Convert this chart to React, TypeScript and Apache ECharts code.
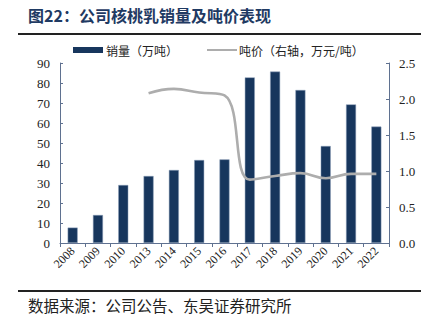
import React, { useEffect, useRef } from "react";
import * as echarts from "echarts";

const categories = ["2008", "2009", "2010", "2013", "2014", "2015", "2016", "2017", "2018", "2019", "2020", "2021", "2022"];
const salesVolume = [7.7, 14, 29, 33.5, 36.5, 41.5, 41.8, 82.8, 85.7, 76.5, 48.5, 69.3, 58.2];
const pricePerTon = [null, null, null, 2.08, 2.14, 2.09, 2.05, 0.88, 0.93, 0.97, 0.9, 0.96, 0.96];
const leftTicks = { min: 0, max: 90, interval: 10 };
const rightTicks = { min: 0, max: 2.5, interval: 0.5 };
const seriesNames = ["销量（万吨）", "吨价（右轴，万元/吨）"];

const CJK = '"Noto Sans CJK SC", sans-serif';
const SERIF = '"Liberation Serif", "Times New Roman", serif';
const BAR_COLOR = "#17365d";
const LINE_COLOR = "#adadad";

export default function App() {
  const ref = useRef<HTMLDivElement>(null);
  useEffect(() => {
    if (!ref.current) return;
    const chart = echarts.init(ref.current, null, { renderer: "svg" });
    const axisColor = "#5f7190";
    chart.setOption({
      animation: false,
      backgroundColor: "#ffffff",
      grid: { left: 60, right: 41, top: 63, bottom: 83 },
      xAxis: {
        type: "category",
        data: categories,
        axisLine: { lineStyle: { color: axisColor, width: 1 } },
        axisTick: { show: true, lineStyle: { color: axisColor }, length: 4 },
        axisLabel: { rotate: 45, fontFamily: SERIF, fontSize: 12, color: "#222", margin: 6, interval: 0 },
      },
      yAxis: [
        {
          type: "value",
          ...leftTicks,
          axisLine: { show: true, lineStyle: { color: axisColor } },
          axisTick: { show: true, inside: true, length: 3, lineStyle: { color: axisColor } },
          splitLine: { show: false },
          axisLabel: { fontFamily: SERIF, fontSize: 13, color: "#222", margin: 10 },
        },
        {
          type: "value",
          ...rightTicks,
          position: "right",
          axisLine: { show: true, lineStyle: { color: axisColor } },
          axisTick: { show: true, inside: true, length: 3, lineStyle: { color: axisColor } },
          splitLine: { show: false },
          axisLabel: {
            fontFamily: SERIF,
            fontSize: 13,
            color: "#222",
            margin: 10,
            formatter: (v: number) => v.toFixed(1),
          },
        },
      ],
      series: [
        {
          name: seriesNames[0],
          type: "bar",
          data: salesVolume,
          barWidth: 10,
          itemStyle: { color: BAR_COLOR, borderColor: "#8ea0bb", borderWidth: 0.5 },
        },
        {
          name: seriesNames[1],
          type: "line",
          yAxisIndex: 1,
          data: pricePerTon,
          smooth: 0.45,
          showSymbol: false,
          symbol: "none",
          lineStyle: { color: LINE_COLOR, width: 2.6 },
          itemStyle: { color: LINE_COLOR },
        },
      ],
      graphic: [
        {
          type: "text",
          left: 28,
          top: 7,
          style: { text: "图22：公司核桃乳销量及吨价表现", fontFamily: CJK, fontSize: 16, fontWeight: "bold", fill: "#1f3a63" },
        },
        {
          type: "line",
          shape: { x1: 18, y1: 34, x2: 421, y2: 34 },
          style: { stroke: "#222", lineWidth: 2 },
        },
        {
          type: "rect",
          shape: { x: 73, y: 47, width: 30, height: 6 },
          style: { fill: BAR_COLOR },
        },
        {
          type: "text",
          x: 106,
          y: 50,
          style: { text: seriesNames[0], fontFamily: CJK, fontSize: 12, fill: "#222", verticalAlign: "middle" },
        },
        {
          type: "line",
          shape: { x1: 207, y1: 50, x2: 237, y2: 50 },
          style: { stroke: LINE_COLOR, lineWidth: 2 },
        },
        {
          type: "text",
          x: 239,
          y: 50,
          style: { text: seriesNames[1], fontFamily: CJK, fontSize: 12, fill: "#222", verticalAlign: "middle" },
        },
        {
          type: "line",
          shape: { x1: 18, y1: 291, x2: 421, y2: 291 },
          style: { stroke: "#222", lineWidth: 2 },
        },
        {
          type: "text",
          left: 28,
          top: 297,
          style: { text: "数据来源：公司公告、东吴证券研究所", fontFamily: CJK, fontSize: 15.5, fill: "#222" },
        },
      ],
    });
    return () => chart.dispose();
  }, []);
  return <div ref={ref} style={{ width: 430, height: 326, position: "absolute", left: 0, top: 0 }} />;
}
